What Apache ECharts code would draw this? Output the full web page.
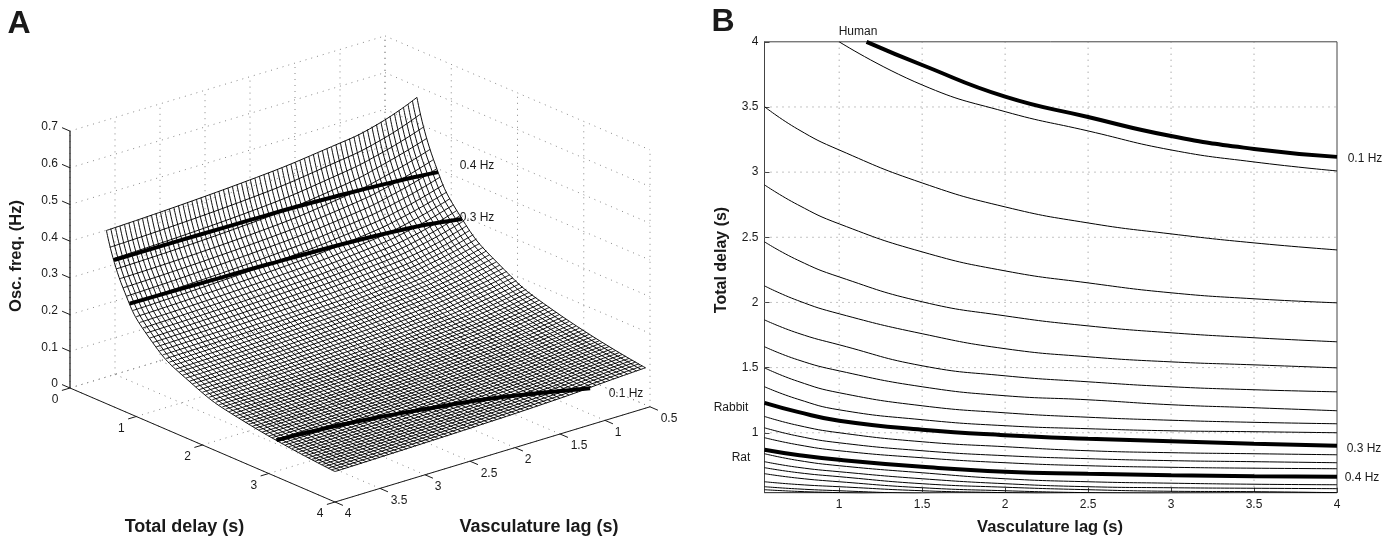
<!DOCTYPE html>
<html><head><meta charset="utf-8">
<style>html,body{margin:0;padding:0;background:#fff}#c{width:1399px;height:539px}</style>
<script src="https://cdn.jsdelivr.net/npm/echarts@6/dist/echarts.min.js"></script>
</head><body><div id="c"></div>
<script>
// ---------- shared ticks ----------
const delayTicksA=[0,1,2,3,4];
const lagTicksA=[0.5,1,1.5,2,2.5,3,3.5,4];
const freqTicks=[0,0.1,0.2,0.3,0.4,0.5,0.6,0.7];
const lagTicksB=[1,1.5,2,2.5,3,3.5,4];
const delayTicksB=[1,1.5,2,2.5,3,3.5,4];

// ---------- iso-frequency curves ----------
const lagKnots=[0.55,0.75,1,1.5,2,2.5,3,3.5,4];
const lag01=[1.165,1.5,2,2.5,3,3.5,4];
const delay01=[4,3.822,3.579,3.423,3.277,3.178,3.117];
const lagC1=[1,1.5,2,2.5,3,3.5,4];
const delayC1=[4,3.669,3.464,3.316,3.170,3.078,3.009];
const delay03=[1.229,1.160,1.092,1.023,0.981,0.954,0.935,0.916,0.900];
const delay04=[0.870,0.830,0.793,0.739,0.701,0.686,0.674,0.666,0.663];
const thinCurves=[
 [3.502,3.330,3.170,2.917,2.733,2.610,2.526,2.457,2.403],
 [2.902,2.750,2.603,2.388,2.242,2.150,2.074,2.028,1.997],
 [2.465,2.325,2.196,2.005,1.897,1.820,1.767,1.729,1.698],
 [2.127,2.015,1.913,1.760,1.645,1.583,1.544,1.521,1.498],
 [1.866,1.765,1.675,1.514,1.437,1.391,1.353,1.330,1.314],
 [1.660,1.560,1.475,1.353,1.284,1.253,1.215,1.192,1.169],
 [1.498,1.395,1.307,1.207,1.153,1.119,1.096,1.080,1.069],
 [1.353,1.258,1.176,1.100,1.054,1.031,1.015,1.008,1.000],
 [1.125,1.057,1.000,0.931,0.893,0.862,0.847,0.839,0.831],
 [1.038,0.975,0.923,0.862,0.824,0.801,0.786,0.778,0.770],
 [0.962,0.908,0.862,0.808,0.770,0.747,0.735,0.728,0.724],
 [0.839,0.788,0.747,0.693,0.647,0.624,0.613,0.605,0.601],
 [0.778,0.735,0.701,0.647,0.609,0.586,0.578,0.574,0.571],
 [0.732,0.694,0.663,0.609,0.582,0.563,0.551,0.548,0.540],
 [0.686,0.652,0.624,0.578,0.555,0.540,0.532,0.525,0.517],
 [0.624,0.603,0.586,0.555,0.540,0.525,0.517],
 [0.586,0.569,0.555,0.532,0.517],
 [0.563,0.550,0.540,0.517]
];

// ---------- surface of panel A ----------
// constant-delay mesh lines (delay 0.55..4 in 0.05 steps), height at five lags
const rowLags=[0.55,1,1.5,2.5,4];
const zLag055=[.579,.537,.506,.479,.453,.429,.408,.389,.372,.356,
.342,.329,.317,.307,.296,.287,.279,.271,.263,.255,
.248,.242,.236,.230,.224,.219,.214,.209,.204,.200,
.196,.191,.187,.184,.180,.177,.174,.170,.167,.164,
.162,.159,.156,.154,.151,.149,.147,.144,.142,.140,
.138,.136,.135,.133,.131,.129,.128,.126,.125,.123,
.122,.120,.119,.118,.116,.115,.114,.113,.111,.110];
const zLag1=[.537,.498,.471,.446,.420,.396,.376,.358,.341,.326,
.311,.298,.286,.276,.267,.258,.250,.243,.237,.230,
.224,.218,.213,.208,.203,.198,.194,.190,.186,.182,
.178,.174,.170,.167,.164,.160,.157,.155,.152,.150,
.147,.145,.142,.140,.138,.136,.134,.132,.131,.129,
.1275,.126,.1244,.1231,.1218,.1206,.1194,.1182,.1171,.1157,
.1146,.1136,.1123,.1114,.1101,.1089,.1078,.1067,.1056,.1045];
const zLag15=[.515,.475,.446,.419,.395,.373,.353,.336,.320,.305,
.291,.279,.268,.258,.250,.242,.233,.226,.219,.213,
.208,.203,.198,.194,.189,.185,.181,.176,.172,.168,
.165,.161,.158,.155,.152,.149,.146,.144,.141,.139,
.136,.134,.132,.130,.128,.126,.125,.123,.121,.120,
.118,.117,.116,.114,.113,.1115,.1104,.1091,.1081,.1069,
.1059,.1047,.1036,.1027,.1016,.1008,.0997,.099,.098,.0973];
const zLag25=[.490,.447,.418,.393,.369,.349,.331,.313,.299,.285,
.272,.261,.250,.242,.233,.225,.217,.209,.203,.197,
.192,.187,.182,.178,.173,.169,.165,.161,.157,.154,
.151,.148,.144,.141,.139,.136,.134,.131,.129,.127,
.125,.122,.120,.119,.117,.115,.114,.112,.111,.109,
.108,.107,.106,.105,.104,.102,.1015,.1003,.0994,.0983,
.0975,.0964,.0956,.0946,.0939,.0929,.0922,.0913,.0906,.0898];
const zLag4=[.472,.430,.403,.379,.356,.335,.316,.300,.285,.272,
.260,.249,.239,.229,.221,.213,.206,.199,.193,.187,
.182,.176,.172,.167,.163,.158,.155,.151,.147,.144,
.141,.138,.135,.132,.129,.127,.125,.122,.120,.118,
.116,.114,.112,.111,.109,.108,.107,.105,.104,.102,
.1015,.1003,.0992,.0981,.0972,.0961,.0952,.0941,.093,.092,
.091,.090,.089,.088,.0872,.0863,.0855,.0846,.0838,.083];
// constant-lag mesh lines (lag 0.55..4 in 0.05 steps), height at six delays
const colDelays=[0.55,0.8,1.2,1.8,2.6,4];
const zDelay055=[.579,.573,.568,.563,.558,.554,.550,.546,.542,.539,
.536,.532,.530,.527,.524,.522,.520,.518,.516,.514,
.513,.511,.509,.508,.506,.505,.504,.502,.501,.500,
.499,.498,.497,.496,.494,.493,.492,.491,.491,.490,
.489,.488,.488,.487,.486,.485,.485,.484,.483,.483,
.482,.482,.481,.480,.479,.479,.478,.478,.477,.477,
.476,.476,.475,.475,.474,.474,.473,.473,.472,.472];
const zDelay08=[.429,.424,.419,.415,.411,.407,.403,.400,.397,.394,
.391,.388,.386,.383,.381,.379,.377,.375,.374,.372,
.371,.369,.368,.366,.365,.364,.363,.361,.360,.359,
.359,.358,.357,.356,.355,.354,.353,.352,.351,.351,
.350,.349,.349,.348,.347,.347,.346,.345,.345,.344,
.344,.343,.343,.342,.342,.341,.341,.340,.340,.339,
.339,.338,.338,.337,.337,.336,.336,.336,.335,.335];
const zDelay12=[.307,.303,.299,.295,.292,.289,.286,.283,.280,.278,
.275,.273,.271,.269,.267,.266,.264,.263,.261,.260,
.259,.257,.256,.255,.254,.253,.252,.251,.250,.249,
.249,.248,.247,.246,.245,.245,.244,.243,.243,.242,
.241,.241,.240,.240,.239,.239,.238,.238,.237,.237,
.236,.236,.235,.235,.234,.234,.234,.233,.233,.233,
.232,.232,.231,.231,.231,.230,.230,.230,.229,.229];
const zDelay18=[.219,.216,.213,.210,.207,.205,.202,.200,.198,.196,
.194,.192,.191,.189,.188,.187,.185,.184,.183,.182,
.181,.180,.179,.178,.178,.177,.176,.175,.174,.174,
.173,.173,.172,.171,.171,.170,.170,.169,.169,.168,
.168,.167,.167,.167,.166,.166,.165,.165,.164,.164,
.164,.163,.163,.163,.162,.162,.162,.161,.161,.161,
.160,.160,.160,.160,.159,.159,.159,.158,.158,.158];
const zDelay26=[.159,.157,.154,.152,.150,.148,.147,.145,.143,.142,
.141,.139,.138,.137,.136,.135,.134,.133,.132,.132,
.131,.130,.130,.129,.128,.128,.127,.127,.126,.126,
.125,.125,.124,.124,.123,.123,.123,.122,.122,.121,
.121,.121,.121,.120,.120,.120,.119,.119,.119,.119,
.118,.118,.118,.117,.117,.117,.117,.116,.116,.116,
.116,.116,.115,.115,.115,.115,.115,.114,.114,.114];
const zDelay4=[.110,.1094,.1088,.1082,.1076,.1070,.1064,.1057,.1051,.1045,
.1037,.1029,.1021,.1013,.1005,.0999,.0993,.0986,.0979,.0973,
.0968,.0963,.0958,.0953,.0948,.0943,.0938,.0933,.0929,.0925,
.0921,.0917,.0914,.0911,.0908,.0905,.0903,.0901,.0899,.0898,
.0893,.0889,.0885,.0881,.0877,.0874,.0871,.0868,.0865,.0862,
.0859,.0856,.0853,.0851,.0848,.0846,.0844,.0842,.0840,.0838,
.0836,.0835,.0834,.0833,.0832,.0832,.0831,.0831,.0830,.0830];
const zByLag=[zLag055,zLag1,zLag15,zLag25,zLag4];
const zByDelay=[zDelay055,zDelay08,zDelay12,zDelay18,zDelay26,zDelay4];
const delayGrid=zLag4.map((_,i)=>+(0.55+0.05*i).toFixed(2));
const lagGrid=zDelay4.map((_,i)=>+(0.55+0.05*i).toFixed(2));

// ---------- oblique projection of panel A onto a full-page pixel axis ----------
function P(T,L,z){return [70+66.25*T+90*(4-L),388+28.5*T-27.2*(4-L)-367*z];}

const INK='#1a1a1a',FONT='"Liberation Sans",Arial,sans-serif';
const series=[];
function lineA(pts,style,smooth){
  series.push({type:'line',xAxisIndex:0,yAxisIndex:0,data:pts,symbol:'none',silent:true,animation:false,clip:false,
    smooth:smooth?0.5:false,lineStyle:style});
}
const dot={color:'#888',width:1,type:[1,5]};
const solid={color:INK,width:1};

// panel A back walls and floor grid
freqTicks.forEach(z=>{lineA([P(0,4,z),P(0,0.5,z)],dot);lineA([P(0,0.5,z),P(4,0.5,z)],dot);});
lagTicksA.forEach(L=>{lineA([P(0,L,0),P(4,L,0)],dot);lineA([P(0,L,0),P(0,L,0.7)],dot);});
delayTicksA.forEach(T=>{lineA([P(T,4,0),P(T,0.5,0)],dot);lineA([P(T,0.5,0),P(T,0.5,0.7)],dot);});

// panel A axes and ticks
lineA([P(0,4,0),P(0,4,0.7)],{color:'#333',width:1.4});
lineA([P(0,4,0),P(4,4,0)],solid);
lineA([P(4,4,0),P(4,0.5,0)],solid);
freqTicks.forEach(z=>lineA([P(0,4,z),P(-0.12,4,z)],solid));
delayTicksA.forEach(T=>lineA([P(T,4,0),P(T,4.09,0)],solid));
lagTicksA.forEach(L=>lineA([P(4,L,0),P(4.12,L,0)],solid));

// white surface underlay
const outline=[];
lagGrid.forEach((L,j)=>outline.push(P(colDelays[0],L,zDelay055[j])));
delayGrid.forEach((T,i)=>outline.push(P(T,4,zLag4[i])));
lagGrid.slice().reverse().forEach((L,j)=>outline.push(P(4,L,zDelay4[lagGrid.length-1-j])));
delayGrid.slice().reverse().forEach((T,i)=>outline.push(P(T,0.55,zLag055[delayGrid.length-1-i])));
series.push({type:'custom',xAxisIndex:0,yAxisIndex:0,silent:true,animation:false,clip:false,data:[0],
  renderItem:(p,api)=>({type:'polygon',shape:{points:outline.map(q=>api.coord(q))},style:{fill:'#fff'}})});

// mesh
const meshStyle={color:'#000',width:0.95};
delayGrid.forEach((T,i)=>lineA(rowLags.map((L,k)=>P(T,L,zByLag[k][i])),meshStyle,true));
lagGrid.forEach((L,j)=>lineA(colDelays.map((T,k)=>P(T,L,zByDelay[k][j])),meshStyle,true));

// thick iso-frequency curves on the surface
const thickA={color:'#000',width:4,cap:'butt'};
lineA(lag01.map((L,k)=>P(delay01[k],L,0.1)),thickA,true);
lineA(lagKnots.map((L,k)=>P(delay03[k],L,0.3)),thickA,true);
lineA(lagKnots.map((L,k)=>P(delay04[k],L,0.4)),thickA,true);

// panel B
function lineB(xs,ys,style,smooth){
  series.push({type:'line',xAxisIndex:1,yAxisIndex:1,data:ys.map((t,k)=>[xs[k],t]),symbol:'none',silent:true,animation:false,
    smooth:smooth?0.5:false,lineStyle:style});
}
const XMIN=0.55,YMIN=0.54;
lagTicksB.slice(0,-1).forEach(L=>lineB([L,L],[YMIN,4],dot));
delayTicksB.slice(0,-1).forEach(T=>lineB([XMIN,4],[T,T],dot));
const thin={color:'#000',width:1};
const thick={color:'#000',width:4};
thinCurves.forEach(c=>lineB(lagKnots,c,thin,true));
lineB(lagC1,delayC1,thin,true);
lineB(lag01,delay01,thick,true);
lineB(lagKnots,delay03,thick,true);
lineB(lagKnots,delay04,thick,true);

// text
function txt(x,y,s,o){o=o||{};return {type:'text',x:x,y:y,rotation:o.rot||0,silent:true,
  style:{text:s,fill:o.fill||INK,font:(o.bold?'bold ':'')+(o.size||12)+'px '+FONT,textAlign:o.align||'center',textVerticalAlign:'middle'}};}
const texts=[];
texts.push(txt(19,24,'A',{bold:1,size:32}));
texts.push(txt(723,22,'B',{bold:1,size:32}));
texts.push(txt(184.5,527,'Total delay (s)',{bold:1,size:18}));
texts.push(txt(539,527,'Vasculature lag (s)',{bold:1,size:18}));
texts.push(txt(16,256,'Osc. freq. (Hz)',{bold:1,size:16.5,rot:Math.PI/2}));
texts.push(txt(1050,527,'Vasculature lag (s)',{bold:1,size:16.5}));
texts.push(txt(722,260,'Total delay (s)',{bold:1,size:16,rot:Math.PI/2}));
freqTicks.forEach(z=>{const p=P(0,4,z);texts.push(txt(p[0]-12,p[1]-4,String(z),{align:'right'}));});
delayTicksA.forEach(T=>{const p=P(T,4,0);texts.push(txt(p[0]-15,p[1]+12,String(T)));});
lagTicksA.forEach(L=>{const p=P(4,L,0);const s=String(L);texts.push(txt(p[0]+(s.length>1?19:13),p[1]+12,s));});
[['0.4 Hz',477,166],['0.3 Hz',477,218],['0.1 Hz',626,394],['Human',858,32],['Rabbit',731,408],['Rat',741,458],
 ['0.1 Hz',1365,159],['0.3 Hz',1364,449],['0.4 Hz',1362,478]].forEach(a=>texts.push(txt(a[1],a[2],a[0])));

const chart=echarts.init(document.getElementById('c'),null,{renderer:'canvas'});
chart.setOption({
  animation:false,backgroundColor:'#fff',
  grid:[
    {left:0,top:0,right:0,bottom:0,show:false},
    {left:764.5,top:41.8,width:572.5,height:450.9,show:true,borderColor:'#444',borderWidth:1,backgroundColor:'transparent'}
  ],
  xAxis:[
    {type:'value',gridIndex:0,min:0,max:1399,show:false},
    {type:'value',gridIndex:1,min:XMIN,max:4,splitLine:{show:false},axisLine:{lineStyle:{color:'#444'}},
     axisTick:{show:true,inside:true,length:5,customValues:lagTicksB,lineStyle:{color:'#444'}},
     axisLabel:{customValues:lagTicksB,color:INK,fontSize:12,fontFamily:FONT,margin:6,formatter:v=>String(v)}}
  ],
  yAxis:[
    {type:'value',gridIndex:0,min:0,max:539,inverse:true,show:false},
    {type:'value',gridIndex:1,min:YMIN,max:4,splitLine:{show:false},axisLine:{lineStyle:{color:'#444'}},
     axisTick:{show:true,inside:true,length:5,customValues:delayTicksB,lineStyle:{color:'#444'}},
     axisLabel:{customValues:delayTicksB,color:INK,fontSize:12,fontFamily:FONT,margin:6,formatter:v=>String(v)}}
  ],
  series:series,
  graphic:{elements:texts}
});
</script></body></html>
